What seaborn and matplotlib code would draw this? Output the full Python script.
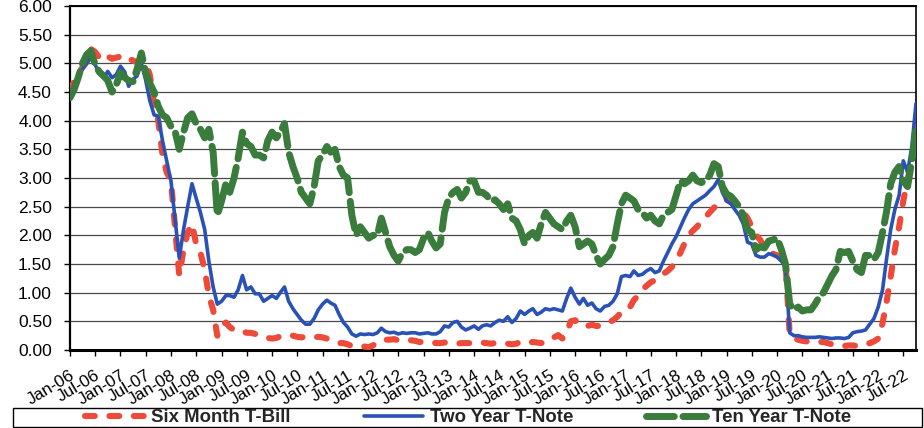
import matplotlib
matplotlib.use("Agg")
import matplotlib.pyplot as plt
import matplotlib.dates as mdates
from matplotlib.patches import Rectangle
from matplotlib.ticker import MultipleLocator, FormatStrFormatter
import pandas as pd
import seaborn as sns

# Monthly yields (%), January 2006 through October 2022
first_month = "2006-01-01"

six_month_bill = [
    4.50, 4.70, 4.82, 4.93, 5.02, 5.25, 5.20, 5.10, 5.05, 5.12, 5.08, 5.10,
    5.12, 5.14, 5.08, 5.05, 5.02, 5.05, 5.02, 4.80, 4.30, 4.00, 3.40, 3.10,
    2.95, 2.10, 1.30, 1.75, 2.05, 2.20, 1.85, 1.70, 1.40, 0.95, 0.70, 0.25,
    0.42, 0.48, 0.40, 0.35, 0.32, 0.33, 0.30, 0.30, 0.28, 0.25, 0.22, 0.21,
    0.20, 0.21, 0.24, 0.26, 0.26, 0.25, 0.23, 0.22, 0.23, 0.23, 0.22, 0.23,
    0.22, 0.20, 0.18, 0.15, 0.12, 0.12, 0.10, 0.07, 0.05, 0.05, 0.06, 0.05,
    0.08, 0.13, 0.17, 0.18, 0.18, 0.19, 0.17, 0.16, 0.16, 0.17, 0.16, 0.14,
    0.14, 0.14, 0.13, 0.12, 0.12, 0.13, 0.12, 0.12, 0.11, 0.12, 0.12, 0.12,
    0.12, 0.13, 0.13, 0.12, 0.11, 0.12, 0.12, 0.12, 0.11, 0.10, 0.11, 0.14,
    0.13, 0.12, 0.14, 0.13, 0.12, 0.15, 0.16, 0.22, 0.26, 0.20, 0.30, 0.50,
    0.52, 0.45, 0.46, 0.42, 0.44, 0.42, 0.42, 0.45, 0.48, 0.52, 0.58, 0.66,
    0.68, 0.75, 0.87, 0.95, 1.05, 1.12, 1.18, 1.22, 1.28, 1.33, 1.38, 1.45,
    1.55, 1.70, 1.85, 2.00, 2.08, 2.15, 2.25, 2.32, 2.40, 2.48, 2.55, 2.60,
    2.62, 2.58, 2.52, 2.45, 2.40, 2.30, 2.15, 2.00, 1.92, 1.78, 1.70, 1.68,
    1.65, 1.62, 1.55, 0.25, 0.20, 0.18, 0.16, 0.15, 0.15, 0.14, 0.14, 0.14,
    0.12, 0.10, 0.08, 0.08, 0.07, 0.08, 0.08, 0.07, 0.08, 0.10, 0.12, 0.15,
    0.20, 0.47, 0.82, 1.28, 1.75, 2.15, 2.60, 2.97, 3.30, 3.90,
]

two_year_note = [
    4.45, 4.65, 4.78, 4.90, 5.00, 5.10, 4.98, 4.82, 4.75, 4.86, 4.75, 4.80,
    4.95, 4.85, 4.60, 4.72, 4.78, 5.00, 4.72, 4.35, 4.10, 4.08, 3.65, 3.30,
    2.95, 2.25, 1.60, 2.10, 2.50, 2.90, 2.65, 2.40, 2.10, 1.55, 1.10, 0.80,
    0.85, 0.95, 0.95, 0.92, 1.05, 1.30, 1.05, 1.10, 0.98, 0.98, 0.85, 0.90,
    0.95, 0.90, 1.00, 1.10, 0.85, 0.72, 0.62, 0.52, 0.45, 0.45, 0.55, 0.70,
    0.80, 0.87, 0.82, 0.78, 0.62, 0.48, 0.40, 0.28, 0.24, 0.28, 0.27, 0.28,
    0.27, 0.30, 0.38, 0.32, 0.30, 0.31, 0.28, 0.30, 0.29, 0.30, 0.30, 0.28,
    0.29, 0.30, 0.28, 0.28, 0.32, 0.42, 0.40, 0.48, 0.50, 0.40, 0.35, 0.38,
    0.42, 0.36, 0.42, 0.44, 0.42, 0.48, 0.52, 0.50, 0.58, 0.48, 0.55, 0.68,
    0.62, 0.68, 0.72, 0.62, 0.66, 0.72, 0.70, 0.72, 0.70, 0.68, 0.90, 1.08,
    0.92, 0.80, 0.90, 0.78, 0.82, 0.72, 0.68, 0.76, 0.78, 0.85, 0.98, 1.28,
    1.30, 1.28, 1.38, 1.30, 1.32, 1.38, 1.42, 1.35, 1.38, 1.55, 1.70, 1.85,
    1.98, 2.15, 2.30, 2.45, 2.55, 2.60, 2.65, 2.70, 2.78, 2.85, 2.97, 2.75,
    2.60, 2.55, 2.45, 2.35, 2.20, 1.88, 1.85, 1.65, 1.62, 1.62, 1.68, 1.66,
    1.62, 1.55, 1.45, 0.30, 0.25, 0.25, 0.23, 0.22, 0.22, 0.22, 0.23, 0.22,
    0.21, 0.20, 0.21, 0.21, 0.20, 0.22, 0.30, 0.32, 0.33, 0.35, 0.45, 0.55,
    0.75, 1.05, 1.57, 2.10, 2.45, 2.70, 3.30, 3.10, 3.55, 4.30,
]

ten_year_note = [
    4.40, 4.55, 4.75, 5.00, 5.15, 5.22, 4.98, 4.85, 4.78, 4.70, 4.50, 4.62,
    4.84, 4.75, 4.70, 4.68, 4.90, 5.18, 4.85, 4.65, 4.50, 4.25, 4.10, 4.05,
    3.90, 3.80, 3.50, 3.80, 4.05, 4.12, 3.95, 3.85, 3.70, 3.85, 3.45, 2.35,
    2.60, 2.90, 2.75, 3.00, 3.35, 3.80, 3.60, 3.55, 3.40, 3.40, 3.35, 3.65,
    3.80, 3.70, 3.80, 3.95, 3.45, 3.20, 3.00, 2.75, 2.65, 2.55, 2.85, 3.30,
    3.40, 3.55, 3.45, 3.50, 3.20, 3.05, 3.00, 2.35, 2.00, 2.15, 2.05, 1.95,
    2.00, 2.00, 2.30, 2.05, 1.80, 1.65, 1.55, 1.70, 1.75, 1.75, 1.70, 1.75,
    1.95, 2.05, 1.90, 1.78, 1.85, 2.40, 2.65, 2.75, 2.80, 2.65, 2.75, 2.95,
    2.95, 2.75, 2.75, 2.70, 2.60, 2.62, 2.55, 2.45, 2.55, 2.30, 2.25, 2.10,
    1.85, 2.00, 2.05, 1.95, 2.20, 2.40, 2.30, 2.20, 2.15, 2.10, 2.25, 2.35,
    2.15, 1.80, 1.85, 1.90, 1.85, 1.65, 1.50, 1.58, 1.65, 1.80, 2.20, 2.55,
    2.70, 2.65, 2.60, 2.45, 2.40, 2.30, 2.35, 2.25, 2.20, 2.35, 2.40, 2.45,
    2.70, 2.95, 2.90, 2.95, 3.05, 2.95, 2.92, 2.95, 3.05, 3.25, 3.20, 2.85,
    2.72, 2.68, 2.60, 2.50, 2.35, 2.10, 2.05, 1.75, 1.80, 1.78, 1.90, 1.92,
    1.95, 1.75, 1.50, 0.80, 0.70, 0.75, 0.68, 0.70, 0.70, 0.80, 0.93, 1.00,
    1.15, 1.30, 1.40, 1.72, 1.70, 1.72, 1.55, 1.40, 1.35, 1.65, 1.65, 1.58,
    1.70, 2.05, 2.40, 2.90, 3.10, 3.20, 2.95, 2.85, 3.30, 3.85,
]

series_labels = ["Six Month T-Bill", "Two Year T-Note", "Ten Year T-Note"]
series_colors = ["#EE4A3A", "#2A52B6", "#3A7C3C"]

dates = pd.date_range(first_month, periods=len(six_month_bill), freq="MS")
df = pd.DataFrame({
    "date": dates,
    "six": six_month_bill,
    "two": two_year_note,
    "ten": ten_year_note,
})

sns.set_theme(style="white")
plt.rcParams["font.family"] = ["Liberation Sans", "DejaVu Sans"]

W, H = 924, 428
fig = plt.figure(figsize=(W / 100, H / 100), dpi=100)
fig.patch.set_facecolor("white")
ax = fig.add_axes([70 / W, (H - 350) / H, 846 / W, 344 / H])

# Six-month bill: heavy dashed red
sns.lineplot(data=df, x="date", y="six", ax=ax, color=series_colors[0],
             linewidth=4.4, linestyle=(0, (1.6, 2.4)), dash_capstyle="round",
             label=series_labels[0], zorder=3)
# Two-year note: solid blue
sns.lineplot(data=df, x="date", y="two", ax=ax, color=series_colors[1],
             linewidth=2.6, solid_capstyle="round", solid_joinstyle="round",
             label=series_labels[1], zorder=4)
# Ten-year note: thick green with short breaks
sns.lineplot(data=df, x="date", y="ten", ax=ax, color=series_colors[2],
             linewidth=5.0, linestyle=(0, (4.0, 1.25)), dash_capstyle="round",
             dash_joinstyle="round", label=series_labels[2], zorder=5)

ax.set_xlim(dates[0], dates[-1])
ax.set_ylim(0, 6)
ax.set_xlabel("")
ax.set_ylabel("")

ax.yaxis.set_major_locator(MultipleLocator(0.5))
ax.yaxis.set_major_formatter(FormatStrFormatter("%.2f"))
ax.xaxis.set_major_locator(mdates.MonthLocator(bymonth=[1, 7]))
ax.xaxis.set_major_formatter(mdates.DateFormatter("%b-%y"))

ax.yaxis.grid(True, color="#4a4a4a", linewidth=0.9)
ax.xaxis.grid(False)
ax.set_axisbelow(True)

for side, lw in {"left": 1.6, "bottom": 2.2, "top": 1.4, "right": 1.2}.items():
    ax.spines[side].set_visible(True)
    ax.spines[side].set_color("black")
    ax.spines[side].set_linewidth(lw)

ax.tick_params(axis="y", left=True, direction="out", length=4, width=1,
               pad=9, labelsize=12.5, colors="black")
ax.tick_params(axis="x", bottom=True, direction="out", length=4, width=1,
               pad=9, labelsize=12.3, colors="black")
for lbl in ax.get_xticklabels():
    lbl.set_rotation(31)
    lbl.set_ha("right")
    lbl.set_va("top")
    lbl.set_rotation_mode("anchor")

handles, labels = ax.get_legend_handles_labels()
if ax.get_legend() is not None:
    ax.get_legend().remove()

fig.legend(handles, labels, loc="center left",
           bbox_to_anchor=(85 / W, 10.5 / H), ncol=3, frameon=False,
           borderpad=0, borderaxespad=0, handlelength=3.22,
           handletextpad=0.35, columnspacing=3.9,
           prop={"weight": "bold", "size": 13.4})
fig.add_artist(Rectangle((13 / W, 1 / H), 909 / W, 19 / H,
                         transform=fig.transFigure, fill=False,
                         edgecolor="black", linewidth=1.0))

fig.savefig("out.png", dpi=100, facecolor="white")
